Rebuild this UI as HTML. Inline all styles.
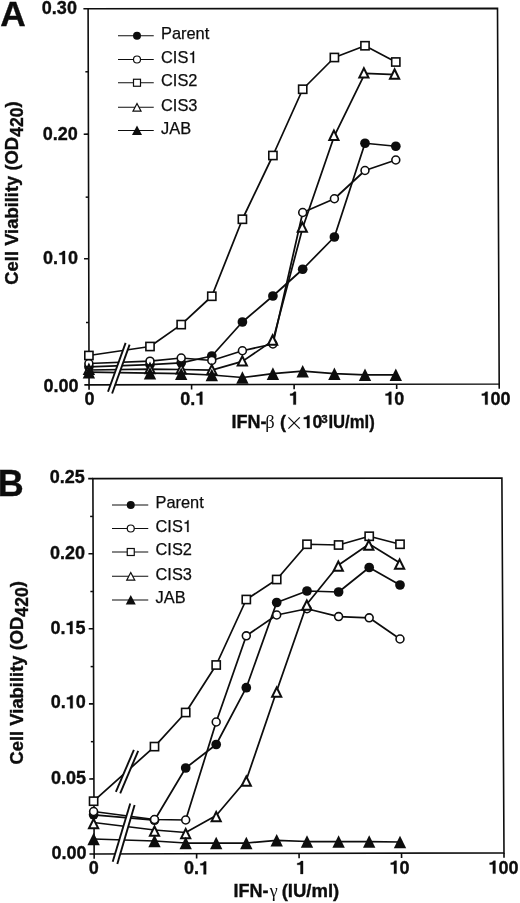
<!DOCTYPE html>
<html><head><meta charset="utf-8"><title>Figure</title>
<style>
html,body{margin:0;padding:0;background:#fff;}
svg{display:block;filter:grayscale(1);}
text{font-family:"Liberation Sans",sans-serif;fill:#0d0d0d;}
.b{font-weight:bold;stroke:#0d0d0d;stroke-width:0.35px;}
.r{font-weight:normal;stroke:#0d0d0d;stroke-width:0.25px;}
.sym{font-family:"Liberation Serif",serif;font-weight:normal;}
</style></head>
<body>
<svg width="520" height="903" viewBox="0 0 520 903">
<rect width="520" height="903" fill="#fff"/>
<polygon points="88.10,8.80 497.50,8.35 499.20,384.00 89.05,384.90" fill="none" stroke="#0d0d0d" stroke-width="1.6" stroke-linejoin="miter"/>
<line x1="83.39999999999999" y1="8.82" x2="88.1" y2="8.8" stroke="#0d0d0d" stroke-width="1.6"/>
<text x="41.87" y="13.9" font-size="18" class="b">0.30</text>
<line x1="83.71666666666665" y1="134.18666666666667" x2="88.41666666666666" y2="134.16666666666666" stroke="#0d0d0d" stroke-width="1.6"/>
<text x="42.67" y="139.7" font-size="18" class="b">0.20</text>
<line x1="84.03333333333333" y1="258.7533333333333" x2="88.73333333333333" y2="258.7333333333333" stroke="#0d0d0d" stroke-width="1.6"/>
<text x="42.97" y="263.9" font-size="18" class="b">0.</text>
<path transform="translate(57.98,263.9) scale(0.01800,-0.01800)" d="M390,0 L250,0 L250,505 L69,505 L69,598 C170,598 262,640 285,710 L390,710 Z" fill="#0d0d0d" stroke="#0d0d0d" stroke-width="19.4"/>
<text x="67.99" y="263.9" font-size="18" class="b">0</text>
<line x1="84.35" y1="384.91999999999996" x2="89.05" y2="384.9" stroke="#0d0d0d" stroke-width="1.6"/>
<text x="43.47" y="392.4" font-size="18" class="b">0.00</text>
<line x1="85.35833333333332" y1="71.78333333333332" x2="88.25833333333333" y2="71.78333333333332" stroke="#0d0d0d" stroke-width="1.5"/>
<line x1="85.67499999999998" y1="197.15" x2="88.57499999999999" y2="197.15" stroke="#0d0d0d" stroke-width="1.5"/>
<line x1="85.99166666666666" y1="322.51666666666665" x2="88.89166666666667" y2="322.51666666666665" stroke="#0d0d0d" stroke-width="1.5"/>
<line x1="89.05" y1="384.9" x2="89.07" y2="389.7" stroke="#0d0d0d" stroke-width="1.6"/>
<text x="84.60" y="404.6" font-size="18" class="b">0</text>
<line x1="191.58749999999998" y1="384.67499999999995" x2="191.6075" y2="389.47499999999997" stroke="#0d0d0d" stroke-width="1.6"/>
<text x="180.30" y="404.6" font-size="18" class="b">0.</text>
<path transform="translate(195.31,404.6) scale(0.01800,-0.01800)" d="M390,0 L250,0 L250,505 L69,505 L69,598 C170,598 262,640 285,710 L390,710 Z" fill="#0d0d0d" stroke="#0d0d0d" stroke-width="19.4"/>
<line x1="294.125" y1="384.45" x2="294.145" y2="389.25" stroke="#0d0d0d" stroke-width="1.6"/>
<path transform="translate(288.90,404.6) scale(0.01800,-0.01800)" d="M390,0 L250,0 L250,505 L69,505 L69,598 C170,598 262,640 285,710 L390,710 Z" fill="#0d0d0d" stroke="#0d0d0d" stroke-width="19.4"/>
<line x1="396.66249999999997" y1="384.225" x2="396.68249999999995" y2="389.02500000000003" stroke="#0d0d0d" stroke-width="1.6"/>
<path transform="translate(384.30,404.6) scale(0.01800,-0.01800)" d="M390,0 L250,0 L250,505 L69,505 L69,598 C170,598 262,640 285,710 L390,710 Z" fill="#0d0d0d" stroke="#0d0d0d" stroke-width="19.4"/>
<text x="394.31" y="404.6" font-size="18" class="b">0</text>
<line x1="499.2" y1="384.0" x2="499.21999999999997" y2="388.8" stroke="#0d0d0d" stroke-width="1.6"/>
<path transform="translate(480.60,404.6) scale(0.01800,-0.01800)" d="M390,0 L250,0 L250,505 L69,505 L69,598 C170,598 262,640 285,710 L390,710 Z" fill="#0d0d0d" stroke="#0d0d0d" stroke-width="19.4"/>
<text x="490.61" y="404.6" font-size="18" class="b">00</text>
<polyline points="88.90,366.80 150.00,364.60 181.20,362.80 211.80,356.00 242.40,322.00 272.90,296.00 302.70,269.25 334.40,237.00 365.00,143.25 395.80,146.25" fill="none" stroke="#0d0d0d" stroke-width="1.75" stroke-linejoin="round"/>
<circle cx="88.9" cy="366.8" r="4.85" fill="#0d0d0d"/>
<circle cx="150.0" cy="364.6" r="4.85" fill="#0d0d0d"/>
<circle cx="181.2" cy="362.8" r="4.85" fill="#0d0d0d"/>
<circle cx="211.8" cy="356" r="4.85" fill="#0d0d0d"/>
<circle cx="242.4" cy="322" r="4.85" fill="#0d0d0d"/>
<circle cx="272.9" cy="296" r="4.85" fill="#0d0d0d"/>
<circle cx="302.7" cy="269.25" r="4.85" fill="#0d0d0d"/>
<circle cx="334.4" cy="237" r="4.85" fill="#0d0d0d"/>
<circle cx="365.0" cy="143.25" r="4.85" fill="#0d0d0d"/>
<circle cx="395.8" cy="146.25" r="4.85" fill="#0d0d0d"/>
<polyline points="88.90,363.50 150.00,361.20 181.20,358.00 211.80,360.50 242.40,350.75 272.90,344.00 302.70,212.50 334.40,198.75 365.00,170.50 395.80,160.00" fill="none" stroke="#0d0d0d" stroke-width="1.75" stroke-linejoin="round"/>
<circle cx="88.9" cy="363.5" r="3.95" fill="#fff" stroke="#0d0d0d" stroke-width="1.6"/>
<circle cx="150.0" cy="361.2" r="3.95" fill="#fff" stroke="#0d0d0d" stroke-width="1.6"/>
<circle cx="181.2" cy="358.0" r="3.95" fill="#fff" stroke="#0d0d0d" stroke-width="1.6"/>
<circle cx="211.8" cy="360.5" r="3.95" fill="#fff" stroke="#0d0d0d" stroke-width="1.6"/>
<circle cx="242.4" cy="350.75" r="3.95" fill="#fff" stroke="#0d0d0d" stroke-width="1.6"/>
<circle cx="272.9" cy="344" r="3.95" fill="#fff" stroke="#0d0d0d" stroke-width="1.6"/>
<circle cx="302.7" cy="212.5" r="3.95" fill="#fff" stroke="#0d0d0d" stroke-width="1.6"/>
<circle cx="334.4" cy="198.75" r="3.95" fill="#fff" stroke="#0d0d0d" stroke-width="1.6"/>
<circle cx="365.0" cy="170.5" r="3.95" fill="#fff" stroke="#0d0d0d" stroke-width="1.6"/>
<circle cx="395.8" cy="160" r="3.95" fill="#fff" stroke="#0d0d0d" stroke-width="1.6"/>
<polyline points="88.90,355.50 150.00,346.50 181.20,324.60 211.80,296.25 242.40,219.25 272.90,155.50 302.70,89.25 334.40,57.50 365.00,45.75 395.80,62.00" fill="none" stroke="#0d0d0d" stroke-width="1.75" stroke-linejoin="round"/>
<rect x="84.80" y="351.40" width="8.2" height="8.2" fill="#fff" stroke="#0d0d0d" stroke-width="1.6"/>
<rect x="145.90" y="342.40" width="8.2" height="8.2" fill="#fff" stroke="#0d0d0d" stroke-width="1.6"/>
<rect x="177.10" y="320.50" width="8.2" height="8.2" fill="#fff" stroke="#0d0d0d" stroke-width="1.6"/>
<rect x="207.70" y="292.15" width="8.2" height="8.2" fill="#fff" stroke="#0d0d0d" stroke-width="1.6"/>
<rect x="238.30" y="215.15" width="8.2" height="8.2" fill="#fff" stroke="#0d0d0d" stroke-width="1.6"/>
<rect x="268.80" y="151.40" width="8.2" height="8.2" fill="#fff" stroke="#0d0d0d" stroke-width="1.6"/>
<rect x="298.60" y="85.15" width="8.2" height="8.2" fill="#fff" stroke="#0d0d0d" stroke-width="1.6"/>
<rect x="330.30" y="53.40" width="8.2" height="8.2" fill="#fff" stroke="#0d0d0d" stroke-width="1.6"/>
<rect x="360.90" y="41.65" width="8.2" height="8.2" fill="#fff" stroke="#0d0d0d" stroke-width="1.6"/>
<rect x="391.70" y="57.90" width="8.2" height="8.2" fill="#fff" stroke="#0d0d0d" stroke-width="1.6"/>
<polyline points="88.90,370.00 150.00,369.10 181.20,369.50 211.80,370.20 242.40,361.40 272.90,340.60 302.70,227.70 334.40,135.80 365.00,73.40 395.80,74.60" fill="none" stroke="#0d0d0d" stroke-width="1.75" stroke-linejoin="round"/>
<polygon points="88.90,362.50 95.10,375.10 82.70,375.10" fill="#0d0d0d"/><polygon points="88.90,367.03 91.89,373.10 85.91,373.10" fill="#fff"/>
<polygon points="150.00,361.60 156.20,374.20 143.80,374.20" fill="#0d0d0d"/><polygon points="150.00,366.13 152.99,372.20 147.01,372.20" fill="#fff"/>
<polygon points="181.20,362.00 187.40,374.60 175.00,374.60" fill="#0d0d0d"/><polygon points="181.20,366.53 184.19,372.60 178.21,372.60" fill="#fff"/>
<polygon points="211.80,362.70 218.00,375.30 205.60,375.30" fill="#0d0d0d"/><polygon points="211.80,367.23 214.79,373.30 208.81,373.30" fill="#fff"/>
<polygon points="242.30,353.90 248.50,366.50 236.10,366.50" fill="#0d0d0d"/><polygon points="242.30,358.43 245.29,364.50 239.31,364.50" fill="#fff"/>
<polygon points="272.60,333.10 278.80,345.70 266.40,345.70" fill="#0d0d0d"/><polygon points="272.60,337.63 275.59,343.70 269.61,343.70" fill="#fff"/>
<polygon points="302.30,220.20 308.50,232.80 296.10,232.80" fill="#0d0d0d"/><polygon points="302.30,224.73 305.29,230.80 299.31,230.80" fill="#fff"/>
<polygon points="333.90,128.30 340.10,140.90 327.70,140.90" fill="#0d0d0d"/><polygon points="333.90,132.83 336.89,138.90 330.91,138.90" fill="#fff"/>
<polygon points="363.90,65.90 370.10,78.50 357.70,78.50" fill="#0d0d0d"/><polygon points="363.90,70.43 366.89,76.50 360.91,76.50" fill="#fff"/>
<polygon points="394.60,67.10 400.80,79.70 388.40,79.70" fill="#0d0d0d"/><polygon points="394.60,71.63 397.59,77.70 391.61,77.70" fill="#fff"/>
<polyline points="88.90,372.20 150.00,373.20 181.20,373.70 211.80,375.00 242.40,377.50 272.90,373.60 302.70,371.20 334.40,373.70 365.00,374.80 395.80,374.80" fill="none" stroke="#0d0d0d" stroke-width="1.75" stroke-linejoin="round"/>
<polygon points="88.90,365.90 95.10,378.50 82.70,378.50" fill="#0d0d0d"/>
<polygon points="150.00,366.90 156.20,379.50 143.80,379.50" fill="#0d0d0d"/>
<polygon points="181.20,367.40 187.40,380.00 175.00,380.00" fill="#0d0d0d"/>
<polygon points="211.80,368.70 218.00,381.30 205.60,381.30" fill="#0d0d0d"/>
<polygon points="242.40,371.20 248.60,383.80 236.20,383.80" fill="#0d0d0d"/>
<polygon points="272.90,367.30 279.10,379.90 266.70,379.90" fill="#0d0d0d"/>
<polygon points="302.70,364.90 308.90,377.50 296.50,377.50" fill="#0d0d0d"/>
<polygon points="334.40,367.40 340.60,380.00 328.20,380.00" fill="#0d0d0d"/>
<polygon points="365.00,368.50 371.20,381.10 358.80,381.10" fill="#0d0d0d"/>
<polygon points="395.80,368.50 402.00,381.10 389.60,381.10" fill="#0d0d0d"/>
<polygon points="108.0,391.7 125.6,342.9 129.6,344.6 112.1,393.5" fill="#fff"/>
<line x1="108.0" y1="391.7" x2="125.6" y2="342.9" stroke="#0d0d0d" stroke-width="1.9"/>
<line x1="112.1" y1="393.5" x2="129.6" y2="344.6" stroke="#0d0d0d" stroke-width="1.9"/>
<line x1="118" y1="35.75" x2="153.75" y2="35.75" stroke="#0d0d0d" stroke-width="1.1"/>
<circle cx="137" cy="35.75" r="4.0" fill="#0d0d0d"/>
<text x="161" y="39.15" font-size="16.4" class="r">Parent</text>
<line x1="118" y1="59.5" x2="153.75" y2="59.5" stroke="#0d0d0d" stroke-width="1.1"/>
<circle cx="137" cy="59.5" r="3.5" fill="#fff" stroke="#0d0d0d" stroke-width="1.2"/>
<text x="161" y="62.90" font-size="16.4" class="r">CIS</text>
<path transform="translate(188.34,62.9) scale(0.01640,-0.01640)" d="M350,0 L262,0 L262,512 L108,512 L108,576 C192,576 276,622 292,709 L350,709 Z" fill="#0d0d0d" stroke="#0d0d0d" stroke-width="15.2"/>
<line x1="118" y1="82.75" x2="153.75" y2="82.75" stroke="#0d0d0d" stroke-width="1.1"/>
<rect x="133.50" y="79.25" width="7.0" height="7.0" fill="#fff" stroke="#0d0d0d" stroke-width="1.2"/>
<text x="161" y="86.15" font-size="16.4" class="r">CIS2</text>
<line x1="118" y1="107.25" x2="153.75" y2="107.25" stroke="#0d0d0d" stroke-width="1.1"/>
<polygon points="137.00,102.25 142.00,111.65 132.00,111.65" fill="#0d0d0d"/><polygon points="137.00,104.81 140.00,110.45 134.00,110.45" fill="#fff"/>
<text x="161" y="110.65" font-size="16.4" class="r">CIS3</text>
<line x1="118" y1="130.5" x2="153.75" y2="130.5" stroke="#0d0d0d" stroke-width="1.1"/>
<polygon points="137.00,125.50 142.00,134.90 132.00,134.90" fill="#0d0d0d"/>
<text x="161" y="133.90" font-size="16.4" class="r">JAB</text>
<text x="0.3" y="26.3" font-size="35.3" class="b">A</text>
<text x="231.5" y="428" font-size="18" class="b">IFN-</text>
<text x="265.3" y="428" font-size="18.5" class="sym">β</text>
<text x="280" y="428" font-size="18" class="b">(</text>
<line x1="288.4" y1="417.4" x2="299.8" y2="428.6" stroke="#0d0d0d" stroke-width="1.2"/>
<line x1="288.4" y1="428.6" x2="299.8" y2="417.4" stroke="#0d0d0d" stroke-width="1.2"/>
<path transform="translate(302.60,428) scale(0.01760,-0.01760)" d="M390,0 L250,0 L250,505 L69,505 L69,598 C170,598 262,640 285,710 L390,710 Z" fill="#0d0d0d" stroke="#0d0d0d" stroke-width="19.9"/>
<text x="312.39" y="428" font-size="17.6" class="b">0</text>
<text x="321.2" y="422.6" font-size="11.5" class="b">3</text>
<text x="328.4" y="428" font-size="18" class="b" textLength="46.3" lengthAdjust="spacingAndGlyphs">IU/ml)</text>
<text transform="translate(18.2,284.7) rotate(-90)" font-size="18.4" class="b">Cell Viability (OD<tspan font-size="17.6" dy="5">420</tspan><tspan dy="-5">)</tspan></text>
<polygon points="92.90,478.60 501.90,478.05 504.00,852.90 94.15,854.00" fill="none" stroke="#0d0d0d" stroke-width="1.6" stroke-linejoin="miter"/>
<line x1="88.2" y1="478.62" x2="92.9" y2="478.6" stroke="#0d0d0d" stroke-width="1.6"/>
<text x="49.77" y="483.1" font-size="18" class="b">0.25</text>
<line x1="88.45" y1="553.7" x2="93.15" y2="553.6800000000001" stroke="#0d0d0d" stroke-width="1.6"/>
<text x="50.07" y="559.0" font-size="18" class="b">0.20</text>
<line x1="88.7" y1="628.78" x2="93.4" y2="628.76" stroke="#0d0d0d" stroke-width="1.6"/>
<text x="50.47" y="634.0" font-size="18" class="b">0.</text>
<path transform="translate(65.48,634.0) scale(0.01800,-0.01800)" d="M390,0 L250,0 L250,505 L69,505 L69,598 C170,598 262,640 285,710 L390,710 Z" fill="#0d0d0d" stroke="#0d0d0d" stroke-width="19.4"/>
<text x="75.49" y="634.0" font-size="18" class="b">5</text>
<line x1="88.95" y1="703.86" x2="93.65" y2="703.84" stroke="#0d0d0d" stroke-width="1.6"/>
<text x="50.67" y="708.3" font-size="18" class="b">0.</text>
<path transform="translate(65.68,708.3) scale(0.01800,-0.01800)" d="M390,0 L250,0 L250,505 L69,505 L69,598 C170,598 262,640 285,710 L390,710 Z" fill="#0d0d0d" stroke="#0d0d0d" stroke-width="19.4"/>
<text x="75.69" y="708.3" font-size="18" class="b">0</text>
<line x1="89.2" y1="778.94" x2="93.9" y2="778.9200000000001" stroke="#0d0d0d" stroke-width="1.6"/>
<text x="50.97" y="784.2" font-size="18" class="b">0.05</text>
<line x1="89.45" y1="854.02" x2="94.15" y2="854.0" stroke="#0d0d0d" stroke-width="1.6"/>
<text x="51.47" y="858.8" font-size="18" class="b">0.00</text>
<line x1="90.125" y1="516.4399999999999" x2="93.025" y2="516.4399999999999" stroke="#0d0d0d" stroke-width="1.5"/>
<line x1="90.375" y1="591.52" x2="93.275" y2="591.52" stroke="#0d0d0d" stroke-width="1.5"/>
<line x1="90.625" y1="666.5999999999999" x2="93.525" y2="666.5999999999999" stroke="#0d0d0d" stroke-width="1.5"/>
<line x1="90.875" y1="741.68" x2="93.775" y2="741.68" stroke="#0d0d0d" stroke-width="1.5"/>
<line x1="91.125" y1="816.76" x2="94.025" y2="816.76" stroke="#0d0d0d" stroke-width="1.5"/>
<line x1="94.15" y1="854.0" x2="94.17" y2="858.8" stroke="#0d0d0d" stroke-width="1.6"/>
<text x="88.70" y="874.3" font-size="18" class="b">0</text>
<line x1="196.6125" y1="853.725" x2="196.63250000000002" y2="858.525" stroke="#0d0d0d" stroke-width="1.6"/>
<text x="184.10" y="874.3" font-size="18" class="b">0.</text>
<path transform="translate(199.11,874.3) scale(0.01800,-0.01800)" d="M390,0 L250,0 L250,505 L69,505 L69,598 C170,598 262,640 285,710 L390,710 Z" fill="#0d0d0d" stroke="#0d0d0d" stroke-width="19.4"/>
<line x1="299.07500000000005" y1="853.45" x2="299.095" y2="858.25" stroke="#0d0d0d" stroke-width="1.6"/>
<path transform="translate(296.00,873.9) scale(0.01800,-0.01800)" d="M390,0 L250,0 L250,505 L69,505 L69,598 C170,598 262,640 285,710 L390,710 Z" fill="#0d0d0d" stroke="#0d0d0d" stroke-width="19.4"/>
<line x1="401.5375" y1="853.175" x2="401.5575" y2="857.9749999999999" stroke="#0d0d0d" stroke-width="1.6"/>
<path transform="translate(389.50,873.6) scale(0.01800,-0.01800)" d="M390,0 L250,0 L250,505 L69,505 L69,598 C170,598 262,640 285,710 L390,710 Z" fill="#0d0d0d" stroke="#0d0d0d" stroke-width="19.4"/>
<text x="399.51" y="873.6" font-size="18" class="b">0</text>
<line x1="504.0" y1="852.9" x2="504.02" y2="857.6999999999999" stroke="#0d0d0d" stroke-width="1.6"/>
<path transform="translate(488.40,873.6) scale(0.01800,-0.01800)" d="M390,0 L250,0 L250,505 L69,505 L69,598 C170,598 262,640 285,710 L390,710 Z" fill="#0d0d0d" stroke="#0d0d0d" stroke-width="19.4"/>
<text x="498.41" y="873.6" font-size="18" class="b">00</text>
<polyline points="93.60,814.80 154.50,820.20 185.70,768.00 216.20,744.50 246.30,687.70 276.70,602.50 307.00,591.00 338.60,592.00 369.20,567.50 400.00,585.00" fill="none" stroke="#0d0d0d" stroke-width="1.75" stroke-linejoin="round"/>
<circle cx="93.6" cy="814.8" r="4.85" fill="#0d0d0d"/>
<circle cx="154.5" cy="820.2" r="4.85" fill="#0d0d0d"/>
<circle cx="185.7" cy="768" r="4.85" fill="#0d0d0d"/>
<circle cx="216.2" cy="744.5" r="4.85" fill="#0d0d0d"/>
<circle cx="246.3" cy="687.7" r="4.85" fill="#0d0d0d"/>
<circle cx="276.7" cy="602.5" r="4.85" fill="#0d0d0d"/>
<circle cx="307.0" cy="591" r="4.85" fill="#0d0d0d"/>
<circle cx="338.6" cy="592" r="4.85" fill="#0d0d0d"/>
<circle cx="369.2" cy="567.5" r="4.85" fill="#0d0d0d"/>
<circle cx="400.0" cy="585" r="4.85" fill="#0d0d0d"/>
<polyline points="93.60,811.50 154.50,819.50 185.70,820.00 216.20,722.00 246.30,635.80 276.70,615.00 307.00,608.75 338.60,616.60 369.20,617.80 400.00,639.00" fill="none" stroke="#0d0d0d" stroke-width="1.75" stroke-linejoin="round"/>
<circle cx="93.6" cy="811.5" r="3.95" fill="#fff" stroke="#0d0d0d" stroke-width="1.6"/>
<circle cx="154.5" cy="819.5" r="3.95" fill="#fff" stroke="#0d0d0d" stroke-width="1.6"/>
<circle cx="185.7" cy="820" r="3.95" fill="#fff" stroke="#0d0d0d" stroke-width="1.6"/>
<circle cx="216.2" cy="722" r="3.95" fill="#fff" stroke="#0d0d0d" stroke-width="1.6"/>
<circle cx="246.3" cy="635.8" r="3.95" fill="#fff" stroke="#0d0d0d" stroke-width="1.6"/>
<circle cx="276.7" cy="615" r="3.95" fill="#fff" stroke="#0d0d0d" stroke-width="1.6"/>
<circle cx="307.0" cy="608.75" r="3.95" fill="#fff" stroke="#0d0d0d" stroke-width="1.6"/>
<circle cx="338.6" cy="616.6" r="3.95" fill="#fff" stroke="#0d0d0d" stroke-width="1.6"/>
<circle cx="369.2" cy="617.8" r="3.95" fill="#fff" stroke="#0d0d0d" stroke-width="1.6"/>
<circle cx="400.0" cy="639.0" r="3.95" fill="#fff" stroke="#0d0d0d" stroke-width="1.6"/>
<polyline points="93.60,801.20 154.50,746.60 185.70,712.50 216.20,665.00 246.30,599.50 276.70,579.50 307.00,544.25 338.60,545.00 369.20,536.25 400.00,544.25" fill="none" stroke="#0d0d0d" stroke-width="1.75" stroke-linejoin="round"/>
<rect x="89.50" y="797.10" width="8.2" height="8.2" fill="#fff" stroke="#0d0d0d" stroke-width="1.6"/>
<rect x="150.40" y="742.50" width="8.2" height="8.2" fill="#fff" stroke="#0d0d0d" stroke-width="1.6"/>
<rect x="181.60" y="708.40" width="8.2" height="8.2" fill="#fff" stroke="#0d0d0d" stroke-width="1.6"/>
<rect x="212.10" y="660.90" width="8.2" height="8.2" fill="#fff" stroke="#0d0d0d" stroke-width="1.6"/>
<rect x="242.20" y="595.40" width="8.2" height="8.2" fill="#fff" stroke="#0d0d0d" stroke-width="1.6"/>
<rect x="272.60" y="575.40" width="8.2" height="8.2" fill="#fff" stroke="#0d0d0d" stroke-width="1.6"/>
<rect x="302.90" y="540.15" width="8.2" height="8.2" fill="#fff" stroke="#0d0d0d" stroke-width="1.6"/>
<rect x="334.50" y="540.90" width="8.2" height="8.2" fill="#fff" stroke="#0d0d0d" stroke-width="1.6"/>
<rect x="365.10" y="532.15" width="8.2" height="8.2" fill="#fff" stroke="#0d0d0d" stroke-width="1.6"/>
<rect x="395.90" y="540.15" width="8.2" height="8.2" fill="#fff" stroke="#0d0d0d" stroke-width="1.6"/>
<polyline points="93.60,822.50 154.50,830.00 185.70,832.50 216.20,815.50 246.30,780.00 276.70,691.00 307.00,604.00 338.60,565.00 369.20,544.00 400.00,563.00" fill="none" stroke="#0d0d0d" stroke-width="1.75" stroke-linejoin="round"/>
<polygon points="93.60,816.70 99.80,829.30 87.40,829.30" fill="#0d0d0d"/><polygon points="93.60,821.23 96.59,827.30 90.61,827.30" fill="#fff"/>
<polygon points="154.50,824.20 160.70,836.80 148.30,836.80" fill="#0d0d0d"/><polygon points="154.50,828.73 157.49,834.80 151.51,834.80" fill="#fff"/>
<polygon points="185.70,826.70 191.90,839.30 179.50,839.30" fill="#0d0d0d"/><polygon points="185.70,831.23 188.69,837.30 182.71,837.30" fill="#fff"/>
<polygon points="216.20,809.70 222.40,822.30 210.00,822.30" fill="#0d0d0d"/><polygon points="216.20,814.23 219.19,820.30 213.21,820.30" fill="#fff"/>
<polygon points="246.30,774.20 252.50,786.80 240.10,786.80" fill="#0d0d0d"/><polygon points="246.30,778.73 249.29,784.80 243.31,784.80" fill="#fff"/>
<polygon points="276.70,685.20 282.90,697.80 270.50,697.80" fill="#0d0d0d"/><polygon points="276.70,689.73 279.69,695.80 273.71,695.80" fill="#fff"/>
<polygon points="306.80,598.20 313.00,610.80 300.60,610.80" fill="#0d0d0d"/><polygon points="306.80,602.73 309.79,608.80 303.81,608.80" fill="#fff"/>
<polygon points="338.30,559.20 344.50,571.80 332.10,571.80" fill="#0d0d0d"/><polygon points="338.30,563.73 341.29,569.80 335.31,569.80" fill="#fff"/>
<polygon points="368.80,538.20 375.00,550.80 362.60,550.80" fill="#0d0d0d"/><polygon points="368.80,542.73 371.79,548.80 365.81,548.80" fill="#fff"/>
<polygon points="399.60,557.20 405.80,569.80 393.40,569.80" fill="#0d0d0d"/><polygon points="399.60,561.73 402.59,567.80 396.61,567.80" fill="#fff"/>
<polyline points="93.60,839.00 154.50,841.00 185.70,843.00 216.20,843.00 246.30,843.00 276.70,840.30 307.00,841.50 338.60,841.50 369.20,841.50 400.00,842.00" fill="none" stroke="#0d0d0d" stroke-width="1.75" stroke-linejoin="round"/>
<polygon points="93.60,832.70 99.80,845.30 87.40,845.30" fill="#0d0d0d"/>
<polygon points="154.50,834.70 160.70,847.30 148.30,847.30" fill="#0d0d0d"/>
<polygon points="185.70,836.70 191.90,849.30 179.50,849.30" fill="#0d0d0d"/>
<polygon points="216.20,836.70 222.40,849.30 210.00,849.30" fill="#0d0d0d"/>
<polygon points="246.30,836.70 252.50,849.30 240.10,849.30" fill="#0d0d0d"/>
<polygon points="276.70,834.00 282.90,846.60 270.50,846.60" fill="#0d0d0d"/>
<polygon points="307.00,835.20 313.20,847.80 300.80,847.80" fill="#0d0d0d"/>
<polygon points="338.60,835.20 344.80,847.80 332.40,847.80" fill="#0d0d0d"/>
<polygon points="369.20,835.20 375.40,847.80 363.00,847.80" fill="#0d0d0d"/>
<polygon points="400.00,835.70 406.20,848.30 393.80,848.30" fill="#0d0d0d"/>
<polygon points="112.7,861.75 130.25,803.4 134.6,805.1 117.3,863.9" fill="#fff"/>
<line x1="112.7" y1="861.75" x2="130.25" y2="803.4" stroke="#0d0d0d" stroke-width="1.9"/>
<line x1="117.3" y1="863.9" x2="134.6" y2="805.1" stroke="#0d0d0d" stroke-width="1.9"/>
<polygon points="115.85,791.9 133.9,749.8 138.2,750.8 120.2,793.3" fill="#fff"/>
<line x1="115.85" y1="791.9" x2="133.9" y2="749.8" stroke="#0d0d0d" stroke-width="1.9"/>
<line x1="120.2" y1="793.3" x2="138.2" y2="750.8" stroke="#0d0d0d" stroke-width="1.9"/>
<line x1="112" y1="505" x2="148.25" y2="505" stroke="#0d0d0d" stroke-width="1.1"/>
<circle cx="130.75" cy="505" r="4.0" fill="#0d0d0d"/>
<text x="155.5" y="508.40" font-size="16.4" class="r">Parent</text>
<line x1="112" y1="528.5" x2="148.25" y2="528.5" stroke="#0d0d0d" stroke-width="1.1"/>
<circle cx="130.75" cy="528.5" r="3.5" fill="#fff" stroke="#0d0d0d" stroke-width="1.2"/>
<text x="155.5" y="531.90" font-size="16.4" class="r">CIS</text>
<path transform="translate(182.84,531.9) scale(0.01640,-0.01640)" d="M350,0 L262,0 L262,512 L108,512 L108,576 C192,576 276,622 292,709 L350,709 Z" fill="#0d0d0d" stroke="#0d0d0d" stroke-width="15.2"/>
<line x1="112" y1="552" x2="148.25" y2="552" stroke="#0d0d0d" stroke-width="1.1"/>
<rect x="127.25" y="548.50" width="7.0" height="7.0" fill="#fff" stroke="#0d0d0d" stroke-width="1.2"/>
<text x="155.5" y="555.40" font-size="16.4" class="r">CIS2</text>
<line x1="112" y1="576.25" x2="148.25" y2="576.25" stroke="#0d0d0d" stroke-width="1.1"/>
<polygon points="130.75,571.25 135.75,580.65 125.75,580.65" fill="#0d0d0d"/><polygon points="130.75,573.81 133.75,579.45 127.75,579.45" fill="#fff"/>
<text x="155.5" y="579.65" font-size="16.4" class="r">CIS3</text>
<line x1="112" y1="600" x2="148.25" y2="600" stroke="#0d0d0d" stroke-width="1.1"/>
<polygon points="130.75,595.00 135.75,604.40 125.75,604.40" fill="#0d0d0d"/>
<text x="155.5" y="603.40" font-size="16.4" class="r">JAB</text>
<text x="-2.2" y="496" font-size="36" class="b">B</text>
<text x="233.6" y="897.3" font-size="18" class="b">IFN-</text>
<text x="269.8" y="897.3" font-size="18" class="sym">γ</text>
<text x="281.7" y="897.3" font-size="18" class="b" textLength="57.6" lengthAdjust="spacingAndGlyphs">(IU/ml)</text>
<text transform="translate(22.8,764.5) rotate(-90)" font-size="18.4" class="b">Cell Viability (OD<tspan font-size="17.6" dy="5">420</tspan><tspan dy="-5">)</tspan></text>
</svg>
</body></html>
